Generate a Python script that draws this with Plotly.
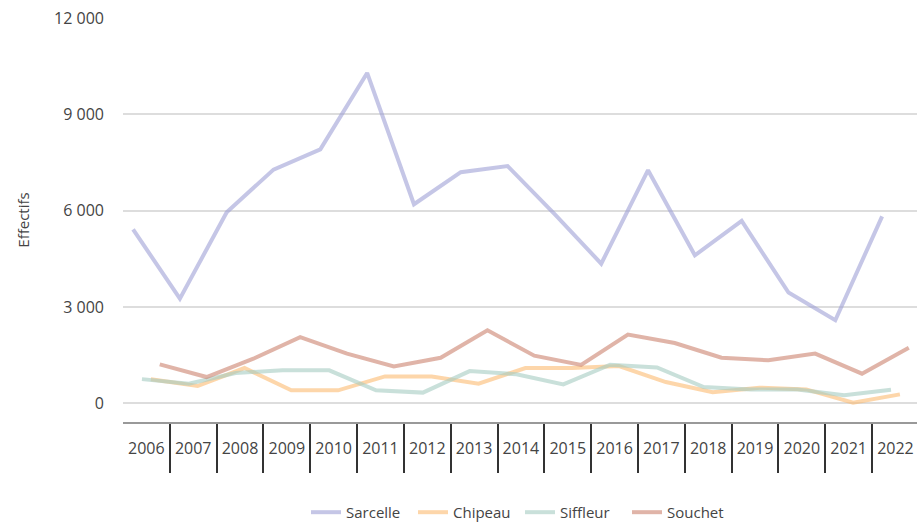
import plotly.graph_objects as go

years = [str(y) for y in range(2006, 2023)]

sarcelle = [5420, 3260, 5950, 7280, 7910, 10290, 6200, 7200, 7390, 5900,
            4350, 7260, 4610, 5680, 3450, 2590, 5825]
chipeau = [750, 540, 1100, 405, 405, 840, 840, 615, 1100, 1100,
           1160, 665, 350, 490, 435, 20, 280]
siffleur = [755, 615, 945, 1030, 1030, 405, 335, 1005, 905, 590,
            1205, 1120, 510, 435, 435, 250, 425]
souchet = [1215, 820, 1390, 2065, 1550, 1150, 1420, 2275, 1485, 1195,
           2140, 1880, 1420, 1340, 1550, 925, 1735]

y_ticks = [0, 3000, 6000, 9000, 12000]
y_labels = ["0", "3 000", "6 000", "9 000", "12 000"]

# name, values, colour, offset inside the category
series = [
    ("Sarcelle", sarcelle, "rgba(158,160,213,0.6)", -0.285),
    ("Chipeau", chipeau, "rgba(252,187,113,0.6)", 0.095),
    ("Siffleur", siffleur, "rgba(165,203,193,0.6)", -0.095),
    ("Souchet", souchet, "rgba(203,130,110,0.6)", 0.285),
]

font = "Open Sans"
fig = go.Figure()

for name, vals, color, off in series:
    fig.add_trace(go.Scatter(
        x=[i + off for i in range(len(years))], y=vals,
        mode="lines", name=name, xaxis="x2",
        line=dict(color=color, width=4),
    ))

# invisible category trace so the label axis knows the years
fig.add_trace(go.Scatter(x=years, y=[None] * len(years), showlegend=False,
                         hoverinfo="skip", mode="lines"))

# the figure is a bit taller than the window: the legend sits at the very bottom
fig.update_layout(
    width=917, height=545,
    margin=dict(l=123, r=0, t=18, b=123),
    plot_bgcolor="white", paper_bgcolor="white",
    font=dict(family=font, size=16, color="#444"),
    xaxis=dict(
        type="category", range=[-0.499, 16.46], automargin=False,
        showgrid=False, zeroline=False,
        showline=True, linecolor="#999", linewidth=1.5,
        ticks="outside", tickson="boundaries", ticklen=49,
        tickwidth=2, tickcolor="#333",
        ticklabelstandoff=11,
        tickfont=dict(size=16, color="#444"),
    ),
    xaxis2=dict(
        overlaying="x", range=[-0.5, 16.46], visible=False,
    ),
    yaxis=dict(
        range=[-580, 12000], tickvals=y_ticks, ticktext=y_labels,
        automargin=False,
        showgrid=True, gridcolor="#ddd", gridwidth=1.5,
        zeroline=False, showline=False, ticks="",
        ticklabelstandoff=18,
        tickfont=dict(size=16, color="#444"),
        title=dict(text="Effectifs", font=dict(size=15, color="#444"),
                   standoff=20),
    ),
    legend=dict(
        orientation="h", x=0.5, xanchor="center", y=-0.183, yanchor="top",
        font=dict(size=15, color="#444"),
        itemwidth=30, entrywidth=62,
    ),
)

fig.write_html("out.html", config={"displayModeBar": False},
               post_script="document.body.style.margin='0';"
                           "document.body.style.overflow='hidden';")
